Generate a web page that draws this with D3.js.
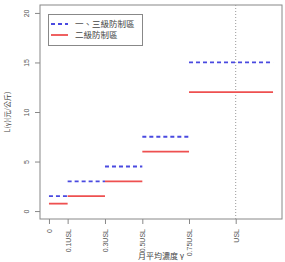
<!DOCTYPE html>
<html><head><meta charset="utf-8">
<script src="https://cdn.jsdelivr.net/npm/d3@7"></script>
<style>body{margin:0;background:#fff}svg{display:block}</style>
</head><body>
<script>
const breaks = [0, 0.1, 0.3, 0.5, 0.75, 1.2];
const seriesNames = ["一、三級防制區", "二級防制區"];
const blueValues = [1.5, 3, 4.5, 7.5, 15];
const redValues = [0.75, 1.5, 3, 6, 12];
const xTickValues = [0, 0.1, 0.3, 0.5, 0.75, 1];
const xTickLabels = ["0", "0.1USL", "0.3USL", "0.5USL", "0.75USL", "USL"];
const yTickValues = [0, 5, 10, 15, 20];
const uslValue = 1;

const W = 285, H = 262;
const L = 40, R = 282, T = 5, B = 219;
const svg = d3.select("body").append("svg").attr("width", W).attr("height", H);
const x = d3.scaleLinear().domain([-0.048, 1.248]).range([L, R]);
const y = d3.scaleLinear().domain([-0.8, 20.8]).range([B, T]);
const font = "Liberation Sans, Arial, sans-serif";
const cjk = "'Noto Sans CJK TC', 'Noto Sans CJK SC', sans-serif";

// box
svg.append("rect").attr("x", L).attr("y", T).attr("width", R - L).attr("height", B - T)
  .attr("fill", "none").attr("stroke", "#888").attr("stroke-width", 1);

// y axis
const yAx = svg.append("g").attr("transform", `translate(${L},0)`)
  .call(d3.axisLeft(y).tickValues(yTickValues).tickSize(5).tickSizeOuter(0));
yAx.select(".domain").remove();
yAx.selectAll(".tick line").attr("stroke", "#888");
yAx.selectAll("text").attr("font-family", font).attr("font-size", 7).attr("fill", "#555")
  .attr("text-anchor", "middle").attr("x", null).attr("dy", "0.35em")
  .attr("transform", "translate(-13,0) rotate(-90)");

// x axis
const xAx = svg.append("g").attr("transform", `translate(0,${B})`)
  .call(d3.axisBottom(x).tickValues(xTickValues).tickFormat((d, i) => xTickLabels[i]).tickSize(5).tickSizeOuter(0));
xAx.select(".domain").remove();
xAx.selectAll(".tick line").attr("stroke", "#888");
xAx.selectAll("text").attr("font-family", font).attr("font-size", 7).attr("fill", "#555")
  .attr("y", null).attr("dy", "0.35em").attr("text-anchor", "end")
  .attr("transform", "translate(0,10) rotate(-90)");

// USL dotted line
svg.append("line").attr("x1", x(uslValue)).attr("x2", x(uslValue)).attr("y1", T).attr("y2", B)
  .attr("stroke", "#999").attr("stroke-width", 1).attr("stroke-dasharray", "1,2");

const segs = (vals) => vals.map((v, i) => ({x0: breaks[i], x1: breaks[i + 1], v}));
const blue = "#4a4ae0", red = "#ee5050";
svg.append("g").selectAll("line").data(segs(redValues)).join("line")
  .attr("x1", d => x(d.x0)).attr("x2", d => x(d.x1)).attr("y1", d => y(d.v)).attr("y2", d => y(d.v))
  .attr("stroke", red).attr("stroke-width", 1.8);
svg.append("g").selectAll("line").data(segs(blueValues)).join("line")
  .attr("x1", d => x(d.x0)).attr("x2", d => x(d.x1)).attr("y1", d => y(d.v)).attr("y2", d => y(d.v))
  .attr("stroke", blue).attr("stroke-width", 1.8).attr("stroke-dasharray", "4,3");

// legend
const lg = svg.append("g");
lg.append("rect").attr("x", 48.5).attr("y", 14.5).attr("width", 94).attr("height", 31)
  .attr("fill", "#fff").attr("stroke", "#888");
[[blue, "4,3"], [red, null]].forEach(([c, da], i) => {
  const yy = 24 + i * 11;
  lg.append("line").attr("x1", 51).attr("x2", 68).attr("y1", yy).attr("y2", yy)
    .attr("stroke", c).attr("stroke-width", 1.8).attr("stroke-dasharray", da);
  lg.append("text").attr("x", 75).attr("y", yy).attr("dy", "0.35em")
    .attr("font-family", cjk).attr("font-size", 8.5).attr("fill", "#444").text(seriesNames[i]);
});

// titles
svg.append("text").attr("x", (L + R) / 2).attr("y", 259).attr("text-anchor", "middle")
  .attr("font-family", cjk).attr("font-size", 8).attr("fill", "#444").text("月平均濃度 γ");
svg.append("text").attr("transform", `translate(8,${(T + B) / 2}) rotate(-90)`).attr("text-anchor", "middle")
  .attr("dy", "0.35em").attr("font-family", cjk).attr("font-size", 7).attr("fill", "#444").text("L(γ)(元/公斤)");
</script>
</body></html>
